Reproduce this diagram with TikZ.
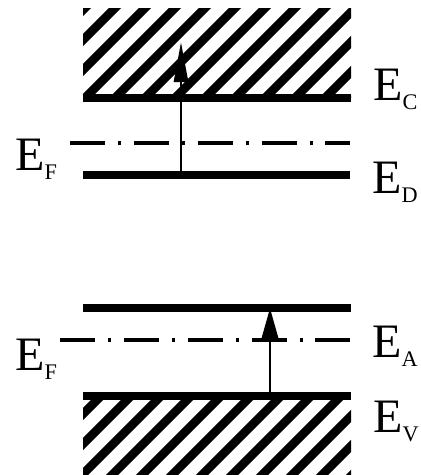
\documentclass[tikz,border=0pt]{standalone}
\usepackage{fontspec}
\setmainfont{Liberation Serif}
\usetikzlibrary{arrows.meta}
\newcommand{\lvsub}[1]{\raisebox{-0.2em}{\fontsize{19}{19}\selectfont #1}}

\tikzset{
    level/.style={line width=6pt},
    fermi/.style={line width=3.4pt, dash pattern=on 30pt off 11pt on 2.5pt off 11pt},
    hatch/.style={line width=7.4pt},
    jump/.style={line width=2.4pt},
    lbl/.style={inner sep=0pt, anchor=base west, font=\fontsize{41}{46}\selectfont}
}

\begin{document}
\begin{tikzpicture}[x=0.03cm, y=-0.03cm]
    \useasboundingbox (0,0) rectangle (421,475);

    % Conduction band (top)
    \begin{scope}
        \clip (83,8) rectangle (351,98);
        \foreach \s in {-4,...,9} {
            \draw[hatch] (83+\s*30, 100) -- ++(115,-115);
        }
    \end{scope}
    \draw[level] (83,98) -- (351,98);
    \coordinate (c1) at (181,42);

    % Fermi level, donor level
    \draw[fermi] (70,143) -- (350,143);
    \draw[level] (83,175) -- (350,175);
    \coordinate (d1) at (181,175);
    \draw[jump, -{Triangle[length=1.2cm, width=0.42cm]}] (d1) -- (c1);

    \node[lbl] (EC) at (373,100) {E\lvsub{C}};
    \node[lbl] (ED) at (372,193) {E\lvsub{D}};
    \node[lbl] (EF1) at (15,170) {E\lvsub{F}};

    % Acceptor level, Fermi level
    \draw[level] (83,308) -- (351,308);
    \coordinate (a1) at (270,308);
    \draw[fermi] (60,340) -- (350,340);

    % Valence band (bottom)
    \begin{scope}
        \clip (83,396) rectangle (351,480);
        \foreach \s in {-4,...,9} {
            \draw[hatch] (72+\s*30, 485) -- ++(115,-115);
        }
    \end{scope}
    \draw[level] (83,396) -- (351,396);
    \coordinate (v1) at (270,396);
    \draw[jump, -{Triangle[length=0.9cm, width=0.48cm]}] (v1) -- (a1);

    \node[lbl] (EA) at (372,357) {E\lvsub{A}};
    \node[lbl] (EV) at (373,432) {E\lvsub{V}};
    \node[lbl] (EF2) at (15,370) {E\lvsub{F}};
\end{tikzpicture}
\end{document}
